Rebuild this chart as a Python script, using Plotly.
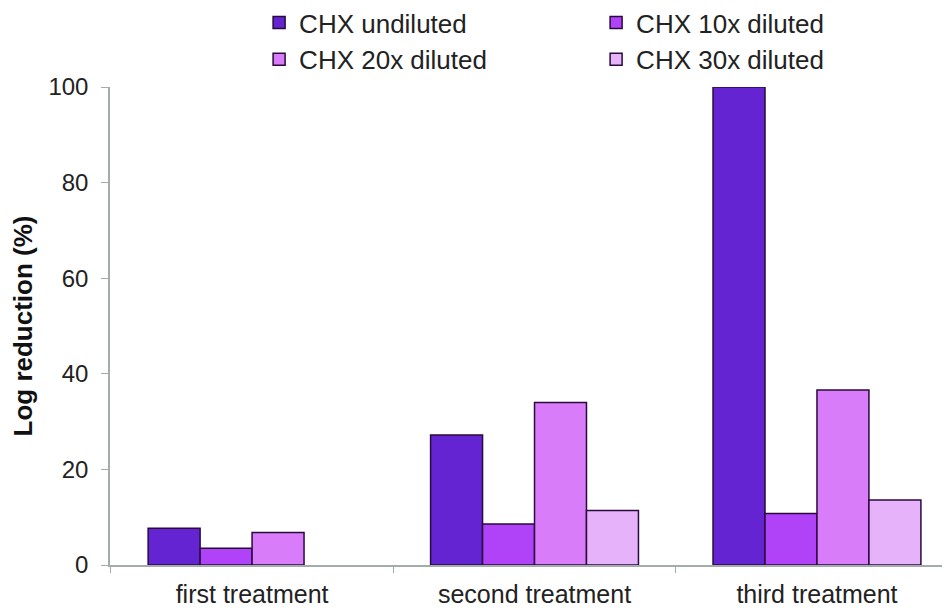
import plotly.graph_objects as go

categories = ["first treatment", "second treatment", "third treatment"]
series_names = ["CHX undiluted", "CHX 10x diluted", "CHX 20x diluted", "CHX 30x diluted"]
undiluted = [7.7, 27.2, 100]
diluted_10x = [3.5, 8.6, 10.8]
diluted_20x = [6.8, 34.0, 36.6]
diluted_30x = [None, 11.4, 13.6]
colors = ["#6424D2", "#B043F7", "#D87CF9", "#E6B3FB"]

fig = go.Figure()
for name, vals, col in zip(series_names, [undiluted, diluted_10x, diluted_20x, diluted_30x], colors):
    fig.add_trace(go.Bar(
        x=categories, y=vals, name=name,
        marker=dict(color=col, line=dict(color="#2A0A3E", width=1.5)),
    ))

fig.update_layout(
    width=950, height=609,
    margin=dict(l=102, r=8, t=79, b=52, autoexpand=False),
    paper_bgcolor="white", plot_bgcolor="white",
    font=dict(family="Liberation Sans, Arial, sans-serif", size=24, color="#222222"),
    barmode="group", bargap=0.264, bargroupgap=0,
    showlegend=True,
    legend=dict(
        orientation="h", x=0.1775, xanchor="left",
        yref="paper", y=1.184, yanchor="top",
        entrywidth=292, entrywidthmode="pixels",
        font=dict(size=26, color="#222222"),
        itemwidth=30, tracegroupgap=0,
        bgcolor="rgba(0,0,0,0)",
    ),
    xaxis=dict(
        type="category", range=[-0.503, 2.471],
        showline=True, linecolor="#A3ABAB", linewidth=1.5,
        ticks="outside", tickson="boundaries", ticklen=6, tickcolor="#A3ABAB",
        showgrid=False, tickfont=dict(size=25, color="#222222"),
        ticklabelstandoff=6,
    ),
    yaxis=dict(
        range=[0, 100], tickvals=[0, 20, 40, 60, 80, 100],
        showline=True, linecolor="#A3ABAB", linewidth=1.5,
        ticks="outside", ticklen=7, tickcolor="#A3ABAB",
        showgrid=False, zeroline=False,
        tickfont=dict(size=24, color="#222222"),
        ticklabelstandoff=8,
        title=dict(text="<b>Log reduction (%)</b>", font=dict(size=26, color="#111111"), standoff=11),
    ),
)

fig.write_html("out.html")
